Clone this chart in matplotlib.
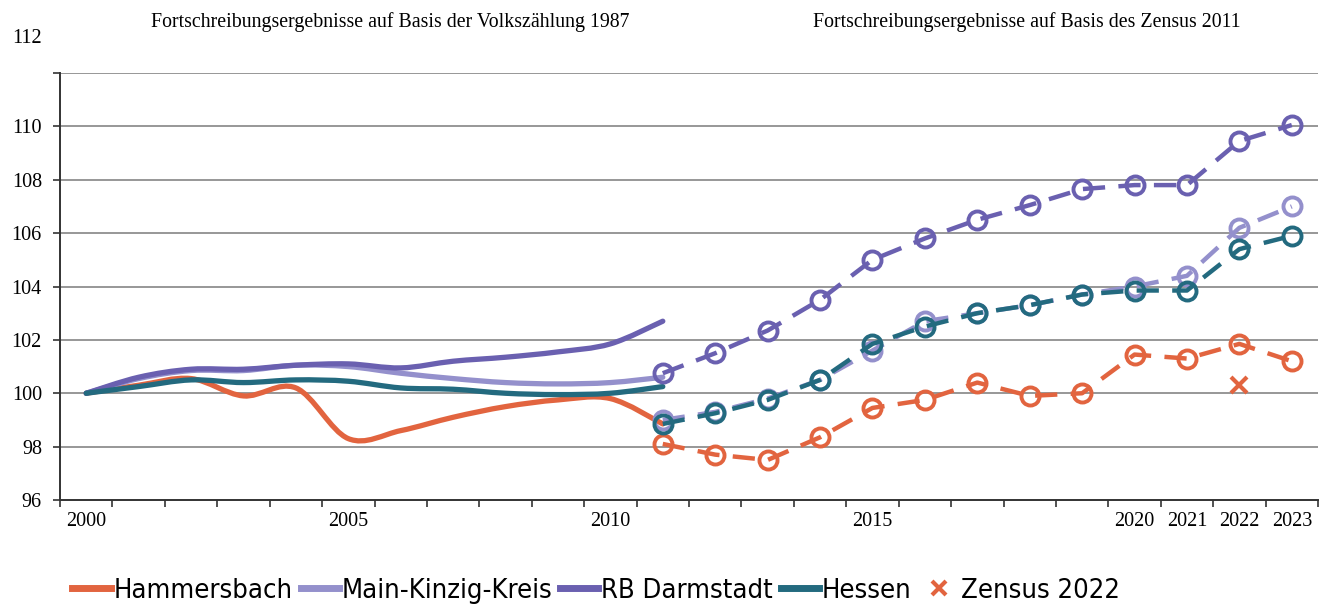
import numpy as np
import matplotlib
matplotlib.use("Agg")
import matplotlib.pyplot as plt
from matplotlib.path import Path
from matplotlib.patches import PathPatch
from matplotlib.lines import Line2D
from matplotlib import font_manager

# yearly index values (2000 = 100)
years_old = list(range(2000, 2012))
years_new = list(range(2011, 2024))

hammersbach_old = [100.0, 100.3, 100.55, 99.9, 100.2, 98.3, 98.6, 99.1, 99.5, 99.75, 99.8, 98.85]
mkk_old = [100.0, 100.55, 100.85, 100.85, 101.05, 101.0, 100.75, 100.55, 100.4, 100.35, 100.4, 100.6]
rbd_old = [100.0, 100.6, 100.9, 100.9, 101.05, 101.1, 100.95, 101.2, 101.35, 101.55, 101.85, 102.7]
hessen_old = [100.0, 100.25, 100.5, 100.4, 100.5, 100.45, 100.2, 100.15, 100.0, 99.95, 100.0, 100.25]

hammersbach_new = [98.1, 97.7, 97.5, 98.35, 99.45, 99.75, 100.4, 99.9, 100.0, 101.45, 101.3, 101.85, 101.2]
mkk_new = [99.0, 99.3, 99.8, 100.5, 101.6, 102.7, 103.0, 103.3, 103.7, 104.0, 104.4, 106.2, 107.0]
rbd_new = [100.75, 101.5, 102.35, 103.5, 105.0, 105.8, 106.5, 107.05, 107.65, 107.8, 107.8, 109.45, 110.05]
hessen_new = [98.85, 99.25, 99.75, 100.5, 101.85, 102.5, 103.0, 103.3, 103.7, 103.85, 103.85, 105.4, 105.9]

zensus_year = [2022]
zensus_val = [100.3]

labels = ["Hammersbach", "Main-Kinzig-Kreis", "RB Darmstadt", "Hessen"]
colors = ["#e2643f", "#9490cc", "#6a60b0", "#236a7f"]
year_labels = [2000, 2005, 2010, 2015, 2020, 2021, 2022, 2023]

serif = ["Liberation Serif", "DejaVu Serif"]

# legend font: narrow sans if there is one, else plain sans a bit smaller
legend_prop = {"family": "Liberation Sans", "size": 19.3}
try:
    font_manager.findfont(font_manager.FontProperties(family="Liberation Sans Narrow"),
                          fallback_to_default=False)
    legend_prop = {"family": "Liberation Sans Narrow", "size": 21}
except ValueError:
    f = font_manager.findfont(font_manager.FontProperties(family="DejaVu Sans", stretch="condensed"))
    if "Condensed" in f:
        legend_prop = {"family": "DejaVu Sans", "stretch": "condensed", "size": 19.6}


def smooth_path(x, y):
    # catmull-rom style smoothing like excel's smoothed lines
    p = np.column_stack([x, y]).astype(float)
    p = np.vstack([p[0], p, p[-1]])
    verts = [p[1]]
    codes = [Path.MOVETO]
    for i in range(1, len(p) - 2):
        c1 = p[i] + (p[i + 1] - p[i - 1]) / 6
        c2 = p[i + 1] - (p[i + 2] - p[i]) / 6
        verts += [c1, c2, p[i + 1]]
        codes += [Path.CURVE4] * 3
    return Path(verts, codes)


fig = plt.figure(figsize=(13.41, 6.09), dpi=100)
ax = fig.add_axes([60 / 1341, 1 - 500 / 609, (1318 - 60) / 1341, (500 - 73) / 609])

for yv in range(98, 113, 2):
    ax.axhline(yv, color="#7a7a7a", lw=1.1, zorder=1)

old = [hammersbach_old, mkk_old, rbd_old, hessen_old]
new = [hammersbach_new, mkk_new, rbd_new, hessen_new]
for vals, c in zip(old, colors):
    ax.add_patch(PathPatch(smooth_path(years_old, vals), fill=False, ec=c,
                           lw=3.8, capstyle="round", zorder=3))

for vals, c in zip(new, colors):
    ax.plot(years_new, vals, color=c, lw=3.2, dashes=(5, 3), marker="o", ms=13,
            mfc="none", mec=c, mew=2.8, zorder=4)

ax.plot(zensus_year, zensus_val, ls="none", marker="x", ms=12, mew=3,
        color=colors[0], zorder=5)

ax.set_xlim(1999.5, 2023.5)
ax.set_ylim(96, 112)

ax.set_xticks(np.arange(1999.5, 2024, 1))
ax.set_xticklabels([])
ax.set_xticks(year_labels, minor=True)
ax.set_xticklabels([str(y) for y in year_labels], minor=True, family=serif, fontsize=14.5)
ax.tick_params(axis="x", which="major", direction="out", length=5, width=1.2, color="#333333")
ax.tick_params(axis="x", which="minor", length=0, pad=9)

ax.set_yticks(range(96, 113, 2))
ax.set_yticklabels([str(v) for v in range(96, 111, 2)] + [""], family=serif, fontsize=14.5)
ax.tick_params(axis="y", direction="out", length=5, width=1.2, color="#333333", pad=8)
ax.annotate("112", xy=(0, 112), xycoords=("axes fraction", "data"), xytext=(-13, 25),
            textcoords="offset points", ha="right", va="center", family=serif, fontsize=14.5)

for s in ["top", "right"]:
    ax.spines[s].set_visible(False)
for s in ["left", "bottom"]:
    ax.spines[s].set_linewidth(1.4)
    ax.spines[s].set_color("#333333")

fig.text(390 / 1341, 1 - 22 / 609, "Fortschreibungsergebnisse auf Basis der Volkszählung 1987",
         ha="center", va="center", family=serif, fontsize=14.3)
fig.text(1027 / 1341, 1 - 22 / 609, "Fortschreibungsergebnisse auf Basis des Zensus 2011",
         ha="center", va="center", family=serif, fontsize=14.3)

handles = [Line2D([], [], color=c, lw=5) for c in colors]
handles.append(Line2D([], [], ls="none", marker="x", ms=10, mew=3, color=colors[0]))
fig.legend(handles, labels + ["Zensus 2022"], loc="center", ncol=5,
           bbox_to_anchor=(596 / 1341, 1 - 591 / 609), frameon=False,
           prop=legend_prop, handlelength=1.4,
           handletextpad=0.1, columnspacing=0.3, borderaxespad=0)

fig.savefig("out.png", dpi=100)
